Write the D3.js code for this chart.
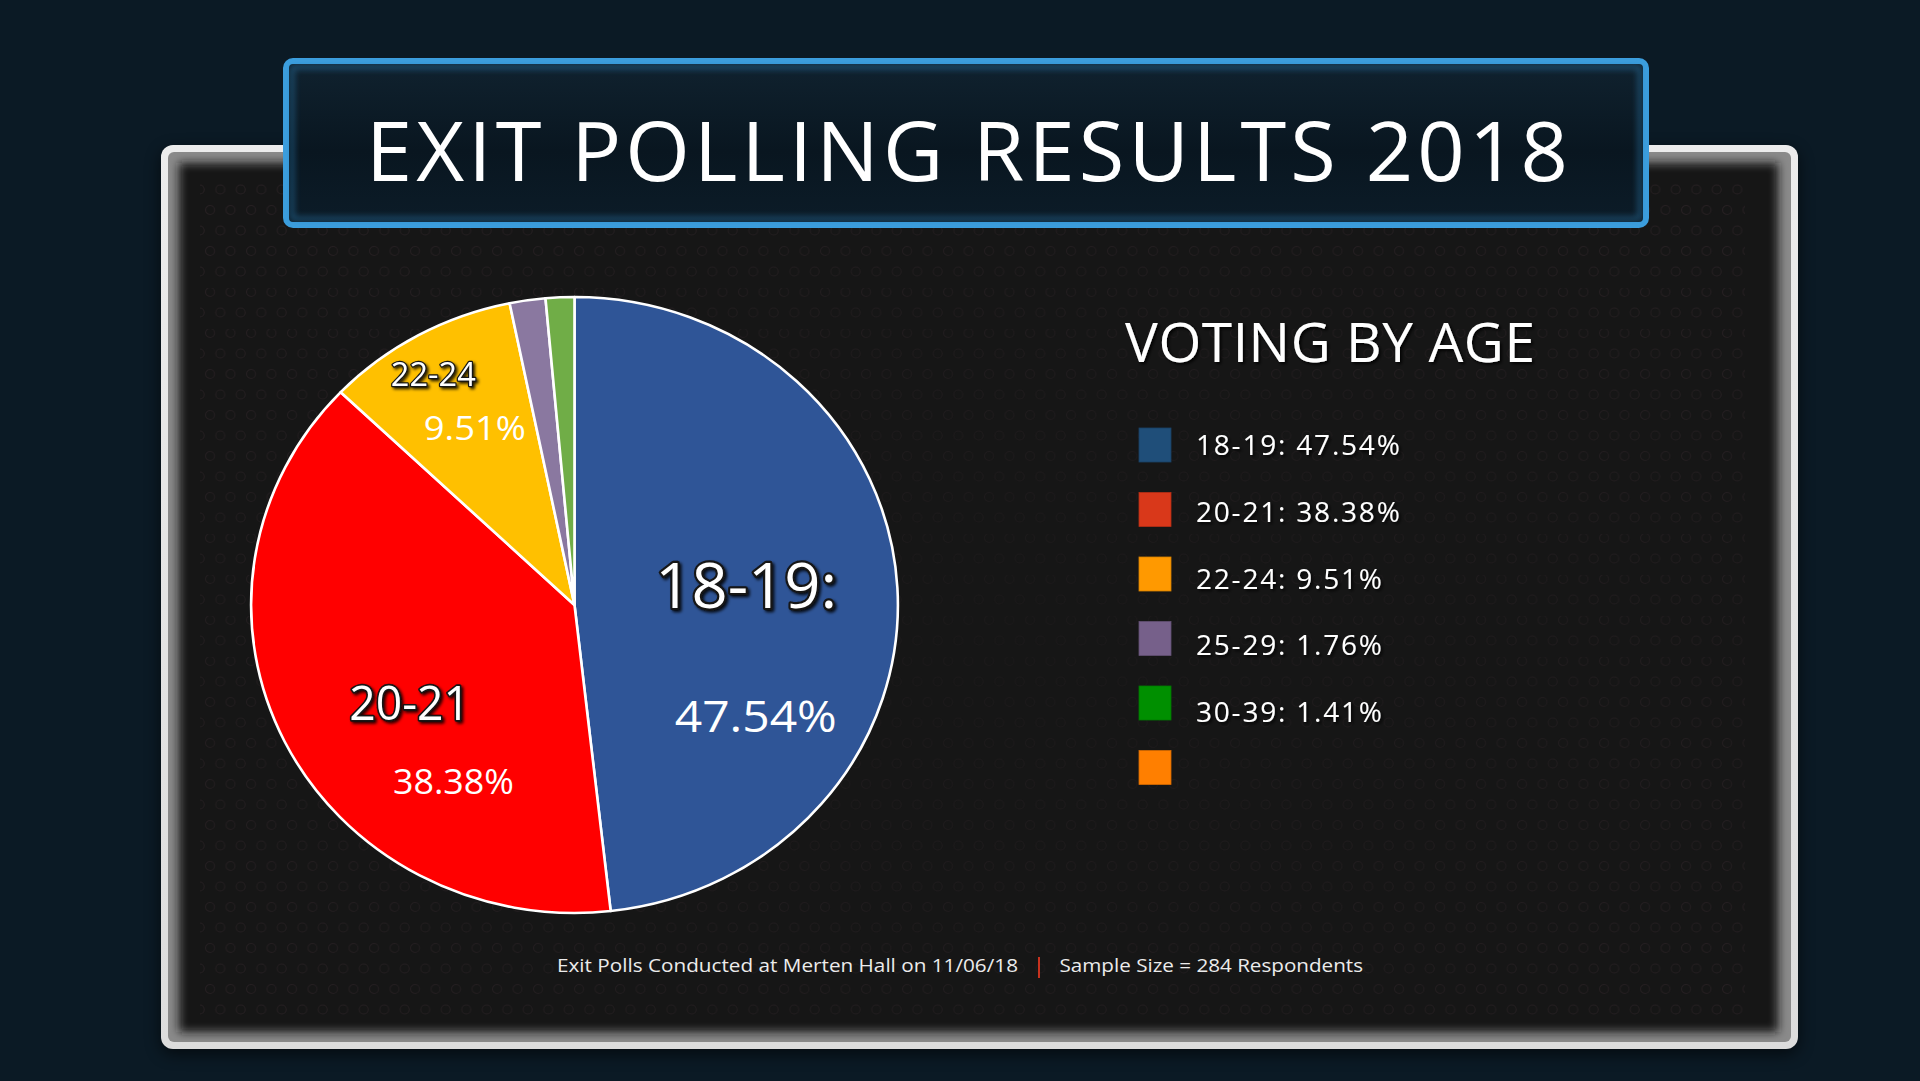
<!DOCTYPE html>
<html>
<head>
<meta charset="utf-8">
<script src="https://cdnjs.cloudflare.com/ajax/libs/d3/7.8.5/d3.min.js"></script>
<style>
  html, body { margin: 0; padding: 0; background: #0b1a25; overflow: hidden; }
  svg { display: block; }
</style>
</head>
<body>
<div id="chart"></div>
<script>
// data
const ageGroups = ["18-19", "20-21", "22-24", "25-29", "30-39"];
const shares = [47.54, 38.38, 9.51, 1.76, 1.41];
const sliceColors = ["#2f5597", "#ff0000", "#ffc000", "#8a78a0", "#70ad47"];
const legendColors = ["#1f4e79", "#d9381a", "#ff9900", "#76608a", "#008f00", "#ff7f00"];
const sliceTitles = ["18-19:", "20-21", "22-24"];   // only the three big slices get labels
const titleText = "EXIT POLLING RESULTS 2018";
const legendTitle = "VOTING BY AGE";
const footLeft = "Exit Polls Conducted at Merten Hall on 11/06/18";
const footRight = "Sample Size = 284 Respondents";

(function () {
    const W = 1920, H = 1081;
    const font = "'Open Sans', 'Noto Sans', sans-serif";

    const svg = d3.select("#chart").append("svg").attr("width", W).attr("height", H);
    const defs = svg.append("defs");

    // filters
    const blur = (id, sd) => defs.append("filter").attr("id", id)
        .attr("x", "-5%").attr("y", "-5%").attr("width", "110%").attr("height", "110%")
        .append("feGaussianBlur").attr("stdDeviation", sd);
    blur("soft", 5);
    blur("glow", 3);

    const shadow = defs.append("filter").attr("id", "tshadow")
        .attr("x", "-10%").attr("y", "-20%").attr("width", "130%").attr("height", "150%");
    shadow.append("feDropShadow").attr("dx", 2).attr("dy", 2).attr("stdDeviation", 1.4)
        .attr("flood-color", "#000").attr("flood-opacity", 0.85);

    const panelShadow = defs.append("filter").attr("id", "pshadow")
        .attr("x", "-5%").attr("y", "-5%").attr("width", "110%").attr("height", "115%");
    panelShadow.append("feGaussianBlur").attr("stdDeviation", 8);

    // gradients
    const g1 = defs.append("linearGradient").attr("id", "frame").attr("x1", 0).attr("y1", 0).attr("x2", 0).attr("y2", 1);
    g1.append("stop").attr("offset", 0).attr("stop-color", "#ececec");
    g1.append("stop").attr("offset", 1).attr("stop-color", "#dcdcdc");

    const g2 = defs.append("linearGradient").attr("id", "titlefill").attr("x1", 0).attr("y1", 0).attr("x2", 0).attr("y2", 1);
    g2.append("stop").attr("offset", 0).attr("stop-color", "#10222f");
    g2.append("stop").attr("offset", 0.55).attr("stop-color", "#091620");
    g2.append("stop").attr("offset", 1).attr("stop-color", "#0c1c28");

    const g3 = defs.append("linearGradient").attr("id", "titleedge").attr("x1", 0).attr("y1", 0).attr("x2", 1).attr("y2", 0);
    g3.append("stop").attr("offset", 0).attr("stop-color", "#3c9ede");
    g3.append("stop").attr("offset", 0.45).attr("stop-color", "#2b6b98");
    g3.append("stop").attr("offset", 0.85).attr("stop-color", "#3790cc");
    g3.append("stop").attr("offset", 1).attr("stop-color", "#3c9ede");

    // dotted texture of the board, fading towards the middle
    const pat = defs.append("pattern").attr("id", "dots").attr("patternUnits", "userSpaceOnUse")
        .attr("width", 20.5).attr("height", 41);
    [[5, 5], [15.25, 25.5]].forEach(p => {
        pat.append("circle").attr("cx", p[0]).attr("cy", p[1]).attr("r", 4.5)
            .attr("fill", "none").attr("stroke", "#2a2225").attr("stroke-width", 1.1);
    });
    const fade = defs.append("radialGradient").attr("id", "fade")
        .attr("cx", 0.5).attr("cy", 0.55).attr("r", 0.7);
    fade.append("stop").attr("offset", 0).attr("stop-color", "#fff").attr("stop-opacity", 0.25);
    fade.append("stop").attr("offset", 0.6).attr("stop-color", "#fff").attr("stop-opacity", 0.55);
    fade.append("stop").attr("offset", 1).attr("stop-color", "#fff").attr("stop-opacity", 0.8);
    defs.append("mask").attr("id", "dotmask")
        .append("rect").attr("x", 200).attr("y", 176).attr("width", 1545).attr("height", 846)
        .attr("fill", "url(#fade)");

    // background
    svg.append("rect").attr("width", W).attr("height", H).attr("fill", "#0b1a25");

    // board
    svg.append("rect").attr("x", 161).attr("y", 150).attr("width", 1637).attr("height", 904)
        .attr("rx", 12).attr("fill", "#000").attr("opacity", 0.6).attr("filter", "url(#pshadow)");
    svg.append("rect").attr("x", 161).attr("y", 145).attr("width", 1637).attr("height", 904)
        .attr("rx", 12).attr("fill", "url(#frame)");
    svg.append("rect").attr("x", 168).attr("y", 152).attr("width", 1623).attr("height", 890)
        .attr("rx", 6).attr("fill", "#8a8a8a");
    svg.append("rect").attr("x", 179).attr("y", 163).attr("width", 1599).attr("height", 869)
        .attr("fill", "#131313").attr("filter", "url(#soft)");
    svg.append("rect").attr("x", 200).attr("y", 176).attr("width", 1545).attr("height", 846)
        .attr("fill", "url(#dots)").attr("mask", "url(#dotmask)");

    // title box
    svg.append("rect").attr("x", 286).attr("y", 61).attr("width", 1360).attr("height", 164)
        .attr("rx", 7).attr("fill", "url(#titlefill)")
        .attr("stroke", "#3c9ede").attr("stroke-width", 6);
    svg.append("line").attr("x1", 292).attr("x2", 1640).attr("y1", 61).attr("y2", 61)
        .attr("stroke", "url(#titleedge)").attr("stroke-width", 6);
    svg.append("rect").attr("x", 292).attr("y", 67).attr("width", 1348).attr("height", 152)
        .attr("rx", 3).attr("fill", "none").attr("stroke", "#2f86c0").attr("stroke-width", 4)
        .attr("opacity", 0.55).attr("filter", "url(#glow)");

    svg.append("text").attr("x", 366).attr("y", 181)
        .attr("font-family", font).attr("font-size", 83).attr("fill", "#fff")
        .attr("textLength", 1202).attr("lengthAdjust", "spacing")
        .text(titleText);

    // pie (drawn slightly wider than tall, as in the picture)
    const R = 308, sx = 1.05;
    const cx = 574.5, cy = 605;
    const pie = d3.pie().sort(null).value(d => d);
    const arcs = pie(shares);
    const arc = d3.arc().innerRadius(0).outerRadius(R);
    const mid = d3.arc().innerRadius(R * 0.6).outerRadius(R * 0.6);

    const pg = svg.append("g").attr("transform", `translate(${cx},${cy})`);
    pg.append("g").attr("transform", `scale(${sx},1)`)
        .selectAll("path")
        .data(arcs)
        .join("path")
        .attr("d", arc)
        .attr("fill", (d, i) => sliceColors[i])
        .attr("stroke", "#fff")
        .attr("stroke-width", 2.6)
        .attr("vector-effect", "non-scaling-stroke")
        .attr("stroke-linejoin", "round");

    // label nudges from the slice centroid (layout only)
    const labelLayout = [
        { cat: [-22, 13, 63, 182], pct: [-12.5, 137.7, 44, 162] },
        { cat: [9, 33, 47, 121], pct: [52.8, 106.6, 34, 121] },
        { cat: [-47.3, -56.8, 33, 85], pct: [-5.8, -3.3, 32, 102] }
    ];

    sliceTitles.forEach((name, i) => {
        const c = mid.centroid(arcs[i]);
        const x = c[0] * sx, y = c[1];
        const L = labelLayout[i];
        pg.append("text")
            .attr("x", x + L.cat[0]).attr("y", y + L.cat[1])
            .attr("text-anchor", "middle")
            .attr("font-family", font).attr("font-size", L.cat[2])
            .attr("textLength", L.cat[3]).attr("lengthAdjust", "spacingAndGlyphs")
            .attr("fill", "#fff").attr("stroke", "#151515")
            .attr("stroke-width", Math.max(2.5, L.cat[2] * 0.07))
            .attr("paint-order", "stroke").attr("stroke-linejoin", "round")
            .attr("filter", "url(#tshadow)")
            .text(name);
        pg.append("text")
            .attr("x", x + L.pct[0]).attr("y", y + L.pct[1])
            .attr("text-anchor", "middle")
            .attr("font-family", font).attr("font-size", L.pct[2])
            .attr("textLength", L.pct[3]).attr("lengthAdjust", "spacingAndGlyphs")
            .attr("fill", "#fff")
            .text(shares[i].toFixed(2) + "%");
    });

    // legend
    svg.append("text").attr("x", 1125).attr("y", 362)
        .attr("font-family", font).attr("font-size", 55).attr("fill", "#fff")
        .attr("textLength", 410).attr("lengthAdjust", "spacing")
        .attr("filter", "url(#tshadow)")
        .text(legendTitle);

    const legendItems = legendColors.map((col, i) => ({
        color: col,
        label: i < ageGroups.length ? `${ageGroups[i]}: ${shares[i].toFixed(2)}%` : ""
    }));
    const boxY = d3.scaleLinear().domain([0, 1]).range([428, 492.5]);
    const textY = d3.scaleLinear().domain([0, 1]).range([455, 521.8]);

    const lg = svg.append("g");
    lg.selectAll("rect")
        .data(legendItems)
        .join("rect")
        .attr("x", 1139).attr("y", (d, i) => boxY(i))
        .attr("width", 32).attr("height", 34)
        .attr("fill", d => d.color)
        .attr("stroke", d => d3.color(d.color).darker(0.5))
        .attr("stroke-width", 0.8);
    lg.selectAll("text")
        .data(legendItems)
        .join("text")
        .attr("x", 1196).attr("y", (d, i) => textY(i))
        .attr("font-family", font).attr("font-size", 28)
        .attr("letter-spacing", 1.8)
        .attr("fill", "#fff")
        .attr("filter", "url(#tshadow)")
        .text(d => d.label);

    // footer
    svg.append("text").attr("x", 557).attr("y", 972)
        .attr("font-family", font).attr("font-size", 19).attr("fill", "#ececec")
        .attr("textLength", 461).attr("lengthAdjust", "spacingAndGlyphs")
        .text(footLeft);
    svg.append("line").attr("x1", 1039).attr("x2", 1039).attr("y1", 957).attr("y2", 978)
        .attr("stroke", "#c8321e").attr("stroke-width", 2);
    svg.append("text").attr("x", 1059.5).attr("y", 972)
        .attr("font-family", font).attr("font-size", 19).attr("fill", "#ececec")
        .attr("textLength", 303.5).attr("lengthAdjust", "spacingAndGlyphs")
        .text(footRight);
})();
</script>
</body>
</html>
